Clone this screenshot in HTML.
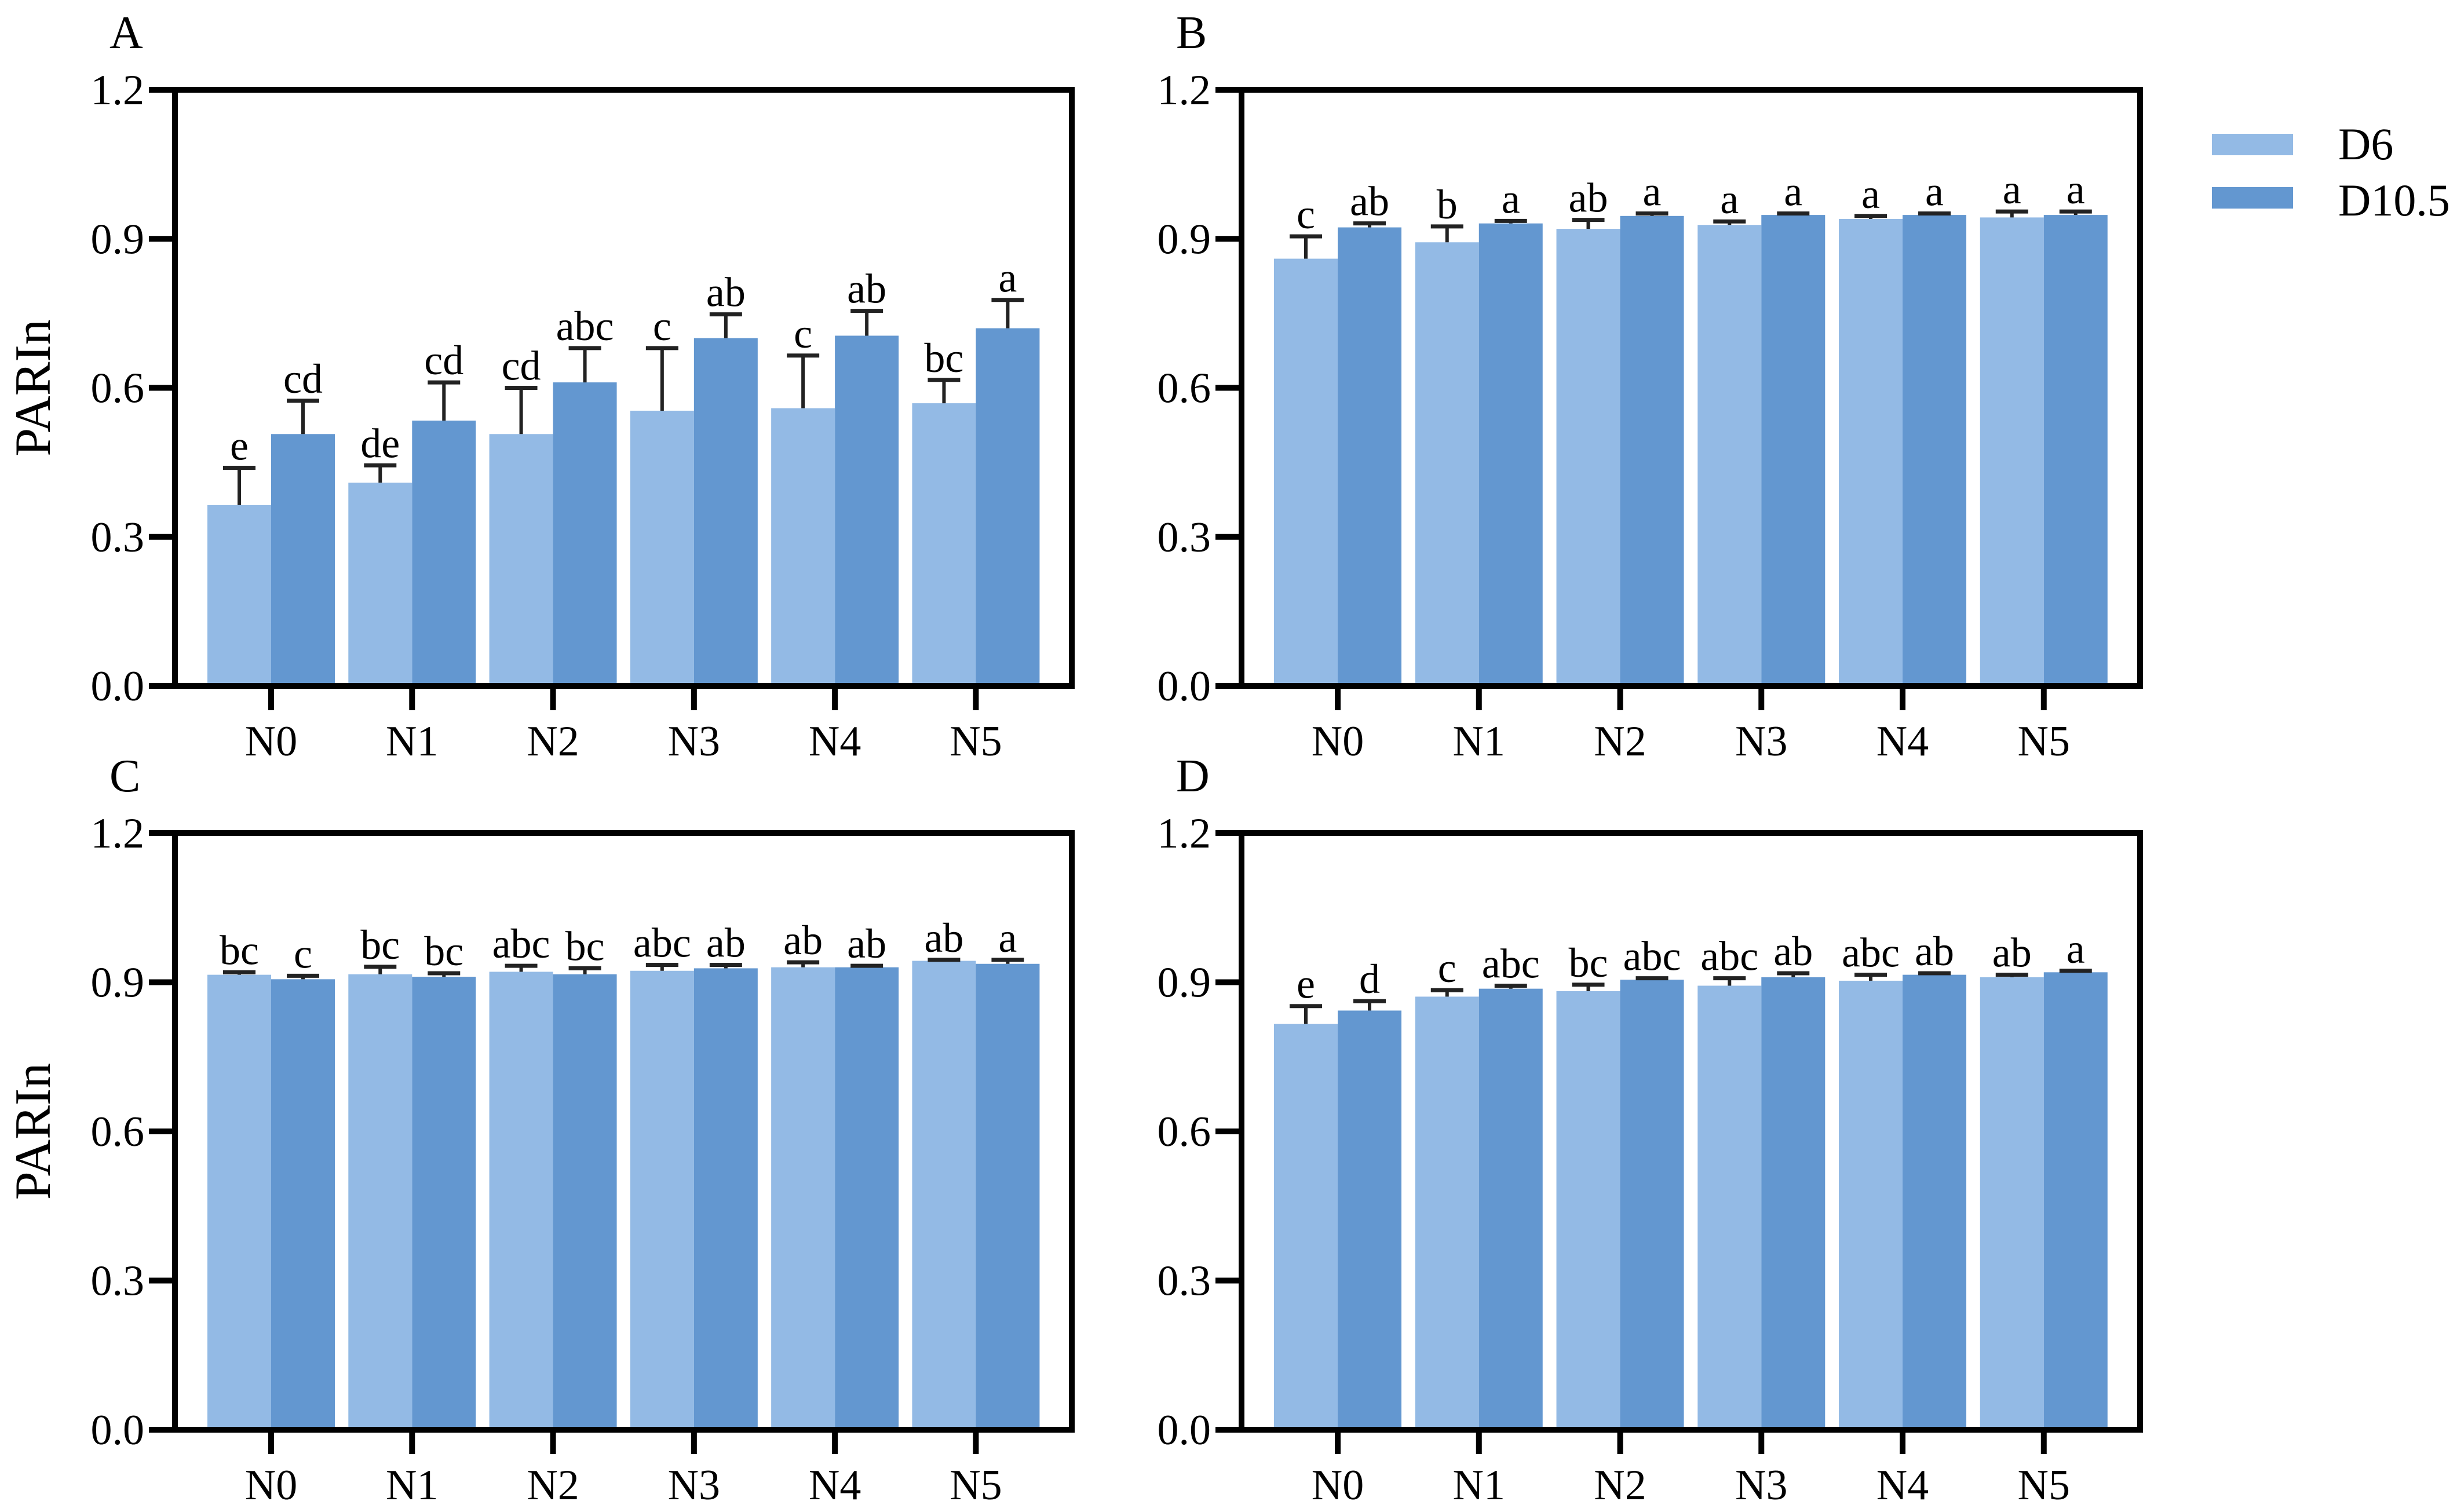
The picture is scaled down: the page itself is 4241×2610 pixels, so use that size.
<!DOCTYPE html>
<html><head><meta charset="utf-8"><style>
html,body{margin:0;padding:0;background:#fff;}
svg{display:block;}
svg text{font-family:"Liberation Serif","DejaVu Serif",serif;}
</style></head><body>
<svg id="fig" width="4241" height="2610" viewBox="0 0 4241 2610" xmlns="http://www.w3.org/2000/svg" font-family="Liberation Serif, DejaVu Serif, serif">
<rect width="4241" height="2610" fill="#fff"/>
</svg>
<script>
const categories = ["N0","N1","N2","N3","N4","N5"];
const yTicks = [0.0, 0.3, 0.6, 0.9, 1.2];
const yTickLabels = ["0.0","0.3","0.6","0.9","1.2"];
const seriesNames = ["D6","D10.5"];
// Panel A
const aD6 = [0.364,0.409,0.507,0.554,0.559,0.569];
const aD6Err = [0.439,0.444,0.600,0.680,0.665,0.616];
const aD105 = [0.507,0.534,0.611,0.700,0.705,0.720];
const aD105Err = [0.574,0.611,0.680,0.748,0.755,0.777];
const aD6Sig = ["e","de","cd","c","c","bc"];
const aD105Sig = ["cd","cd","abc","ab","ab","a"];
// Panel B
const bD6 = [0.860,0.893,0.920,0.928,0.940,0.943];
const bD6Err = [0.905,0.925,0.938,0.935,0.946,0.955];
const bD105 = [0.923,0.931,0.946,0.948,0.948,0.948];
const bD105Err = [0.931,0.936,0.951,0.951,0.951,0.955];
const bD6Sig = ["c","b","ab","a","a","a"];
const bD105Sig = ["ab","a","a","a","a","a"];
// Panel C
const cD6 = [0.915,0.916,0.921,0.923,0.930,0.943];
const cD6Err = [0.920,0.931,0.933,0.935,0.940,0.945];
const cD105 = [0.906,0.911,0.916,0.928,0.930,0.937];
const cD105Err = [0.913,0.918,0.928,0.935,0.933,0.945];
const cD6Sig = ["bc","bc","abc","abc","ab","ab"];
const cD105Sig = ["c","bc","bc","ab","ab","a"];
// Panel D
const dD6 = [0.816,0.871,0.882,0.893,0.903,0.910];
const dD6Err = [0.852,0.884,0.895,0.908,0.915,0.915];
const dD105 = [0.843,0.887,0.905,0.910,0.915,0.920];
const dD105Err = [0.862,0.893,0.908,0.918,0.918,0.923];
const dD6Sig = ["e","c","bc","abc","abc","ab"];
const dD105Sig = ["d","abc","abc","ab","ab","a"];

const NS="http://www.w3.org/2000/svg";
const svg=document.getElementById('fig');
const LIGHT="#93bae5", DARK="#6397d0";
const FF="Liberation Serif, DejaVu Serif, serif";
function mk(tag,attrs,parent){const e=document.createElementNS(NS,tag);for(const k in attrs)e.setAttribute(k,attrs[k]);if(tag==='text')e.setAttribute('font-family',FF);(parent||svg).appendChild(e);return e;}

const panels=[
 {id:"a",letter:"A",L:302,R:1850,T:155,B:1184,ylab:true,d6:aD6,d6e:aD6Err,d105:aD105,d105e:aD105Err,s6:aD6Sig,s105:aD105Sig},
 {id:"b",letter:"B",L:2143,R:3694,T:155,B:1184,ylab:false,d6:bD6,d6e:bD6Err,d105:bD105,d105e:bD105Err,s6:bD6Sig,s105:bD105Sig},
 {id:"c",letter:"C",L:302,R:1850,T:1438,B:2468,ylab:true,d6:cD6,d6e:cD6Err,d105:cD105,d105e:cD105Err,s6:cD6Sig,s105:cD105Sig},
 {id:"d",letter:"D",L:2143,R:3694,T:1438,B:2468,ylab:false,d6:dD6,d6e:dD6Err,d105:dD105,d105e:dD105Err,s6:dD6Sig,s105:dD105Sig}
];

panels.forEach(p=>{
  const g=mk('g',{});
  
  
  const y=v=>p.B-(v/1.2)*(p.B-p.T);
  const x0=p.L+166;
  const xc=i=>x0+i*((p.R-p.L)*0.7858/5);
  const bw=110;
  const lt=mk('text',{x:p.L-113,y:p.T-72,'font-size':80,fill:'#000'},g);
  lt.textContent=p.letter;
  
  
  for(let i=0;i<categories.length;i++){
    const c=xc(i);
    const b1=mk('rect',{x:c-bw,y:y(p.d6[i]),width:bw,height:p.B-y(p.d6[i]),fill:LIGHT},g);
    
    
    const b2=mk('rect',{x:c,y:y(p.d105[i]),width:bw,height:p.B-y(p.d105[i]),fill:DARK},g);
    
    
    [[c-bw/2,p.d6[i],p.d6e[i],p.s6[i],'d6'],[c+bw/2,p.d105[i],p.d105e[i],p.s105[i],'d105']].forEach(([cx,v,e,s,nm])=>{
      const eg=mk('g',{stroke:'#222','stroke-width':6},g);
      
      
      mk('line',{x1:cx,x2:cx,y1:y(v),y2:y(e)},eg);
      mk('line',{x1:cx-28,x2:cx+28,y1:y(e),y2:y(e),'stroke-width':7},eg);
      const t=mk('text',{x:cx,y:y(e)-14,'font-size':72,'text-anchor':'middle',fill:'#000'},g);
      t.textContent=s;
      
      
    });
    const tk=mk('line',{x1:c,x2:c,y1:p.B,y2:p.B+42,stroke:'#000','stroke-width':10},g);
    
    
    const xl=mk('text',{x:c,y:p.B+120,'font-size':74,'text-anchor':'middle',fill:'#000'},g);
    xl.textContent=categories[i];
    
    
  }
  yTicks.forEach((v,k)=>{
    const tk=mk('line',{x1:p.L-45,x2:p.L,y1:y(v),y2:y(v),stroke:'#000','stroke-width':10},g);
    
    
    const tl=mk('text',{x:p.L-53,y:y(v)+25,'font-size':74,'text-anchor':'end',fill:'#000'},g);
    tl.textContent=yTickLabels[k];
    
    
  });
  const fr=mk('rect',{x:p.L,y:p.T,width:p.R-p.L,height:p.B-p.T,fill:'none',stroke:'#000','stroke-width':10},g);
  
  
  if(p.ylab){
    const cy=(p.T+p.B)/2;
    const yt=mk('text',{x:0,y:0,'font-size':88,'text-anchor':'middle',fill:'#000',transform:`translate(86,${cy}) rotate(-90)`},g);
    yt.textContent="PARIn";
    
    
  }
});

const lg=mk('g',{});


[[LIGHT,231,275],[DARK,323,372]].forEach(([col,ry,ty],k)=>{
  const e=mk('g',{},lg);
  
  
  mk('rect',{x:3818,y:ry,width:140,height:37,fill:col},e);
  const t=mk('text',{x:4036,y:ty,'font-size':78,fill:'#000'},e);
  t.textContent=seriesNames[k];
});
</script>
</body></html>
